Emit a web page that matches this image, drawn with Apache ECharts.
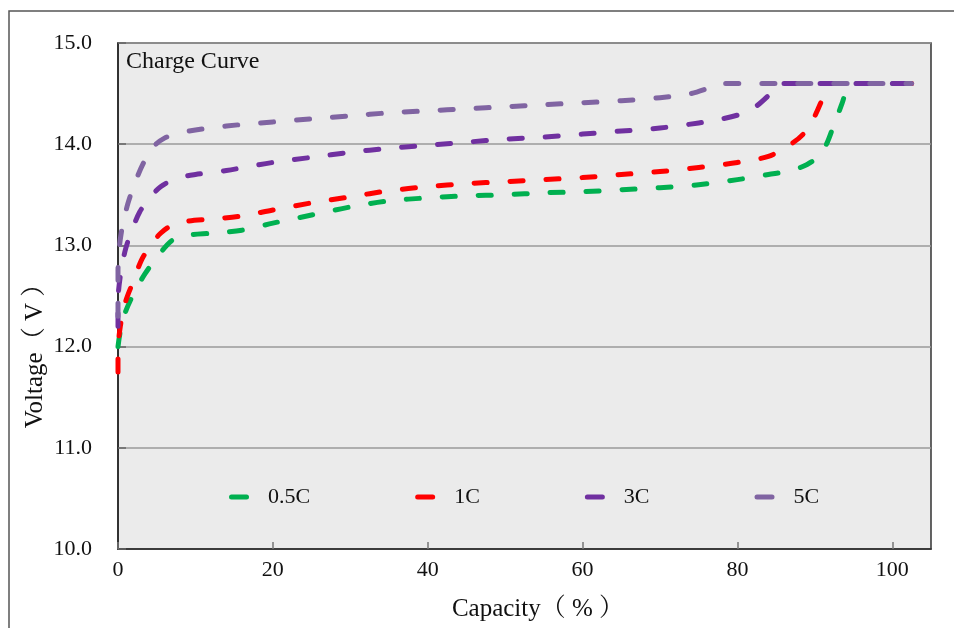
<!DOCTYPE html>
<html>
<head>
<meta charset="utf-8">
<script src="https://cdn.jsdelivr.net/npm/echarts@6/dist/echarts.min.js"></script>
<style>
  html, body { margin: 0; padding: 0; background: #fff; }
  #myChart { width: 954px; height: 628px; }
</style>
</head>
<body>
<div id="myChart"></div>
<script>
// series names (legend)
var seriesNames = ["0.5C", "1C", "3C", "5C"];
var seriesColors = ["#00b050", "#ff0000", "#7030a0", "#8064a2"];

// 0.5C
var cap05 = [0, 0.3, 1.0, 2.2, 3.5, 5, 7, 9, 12, 16, 20, 25, 30, 35, 40, 45, 50, 55, 60, 65, 70, 75, 80, 84, 87, 89, 90.5, 91.5, 92.5, 93.5, 94.3, 95, 98, 102.5];
var volt05 = [12.0, 12.15, 12.35, 12.55, 12.72, 12.88, 13.05, 13.1, 13.12, 13.15, 13.22, 13.3, 13.38, 13.44, 13.47, 13.49, 13.5, 13.52, 13.53, 13.55, 13.57, 13.6, 13.65, 13.7, 13.74, 13.8, 13.88, 14.0, 14.2, 14.4, 14.58, 14.6, 14.6, 14.6];

// 1C
var cap1 = [0, 0, 0.3, 1.0, 2.0, 3.0, 4.2, 5.5, 7, 9, 12, 16, 20, 25, 30, 35, 40, 45, 50, 55, 60, 65, 70, 75, 80, 84, 86.5, 88.5, 90, 91, 92, 93, 98, 102.5];
var volt1 = [11.75, 11.95, 12.2, 12.45, 12.65, 12.85, 13.0, 13.12, 13.2, 13.24, 13.26, 13.29, 13.35, 13.42, 13.48, 13.54, 13.58, 13.61, 13.63, 13.65, 13.67, 13.7, 13.73, 13.77, 13.82, 13.88, 13.98, 14.1, 14.28, 14.45, 14.6, 14.6, 14.6, 14.6];

// 3C
var cap3 = [0, 0, 0.4, 1.0, 1.8, 2.8, 4.0, 5.5, 7.5, 10, 14, 20, 25, 30, 35, 40, 45, 50, 55, 60, 65, 70, 75, 78, 80.5, 82.5, 84, 85.5, 90, 95, 102.5];
var volt3 = [12.2, 12.45, 12.75, 12.97, 13.15, 13.33, 13.46, 13.58, 13.66, 13.7, 13.74, 13.82, 13.87, 13.92, 13.96, 13.99, 14.02, 14.05, 14.07, 14.1, 14.13, 14.16, 14.21, 14.25, 14.3, 14.38, 14.48, 14.6, 14.6, 14.6, 14.6];

// 5C
var cap5 = [0, 0, 0.2, 0.6, 1.3, 2.2, 3.2, 4.5, 6, 8, 10, 14, 20, 25, 30, 35, 40, 45, 50, 55, 60, 65, 70, 74, 76.5, 78, 85, 95, 102.5];
var volt5 = [12.3, 12.75, 13.0, 13.2, 13.42, 13.62, 13.8, 13.97, 14.06, 14.11, 14.14, 14.18, 14.22, 14.25, 14.28, 14.31, 14.33, 14.35, 14.37, 14.39, 14.41, 14.43, 14.46, 14.5, 14.56, 14.6, 14.6, 14.6, 14.6];

var capList = [cap05, cap1, cap3, cap5];
var voltList = [volt05, volt1, volt3, volt5];

var serif = "'Liberation Serif', 'Noto Serif CJK SC', 'Noto Sans CJK SC', serif";

function pairs(xs, ys) {
  return xs.map(function (x, i) { return [x, ys[i]]; });
}

var mycharts = echarts.init(document.getElementById("myChart"));

var series = seriesNames.map(function (name, i) {
  return {
    name: name,
    type: "line",
    smooth: 0.3,
    showSymbol: false,
    symbol: "none",
    data: pairs(capList[i], voltList[i]),
    lineStyle: {
      color: seriesColors[i],
      width: 5,
      type: [13, 23],
      cap: "round",
      join: "round"
    },
    itemStyle: { color: seriesColors[i] }
  };
});

var option = {
  backgroundColor: "#fff",
  animation: false,
  title: {
    text: "Charge Curve",
    left: 126,
    top: 50,
    padding: 0,
    textStyle: { fontFamily: serif, fontSize: 24, fontWeight: "normal", color: "#111" }
  },
  legend: {
    data: seriesNames,
    left: 229,
    top: 486,
    padding: 0,
    itemGap: 105,
    itemWidth: 20,
    itemHeight: 5,
    icon: "path://M2.5,0 L17.5,0 A2.5,2.5 0 0 1 17.5,5 L2.5,5 A2.5,2.5 0 0 1 2.5,0 Z",
    textStyle: { fontFamily: serif, fontSize: 22, color: "#111", padding: [0, 0, 0, 14] }
  },
  grid: {
    left: 118,
    top: 43,
    right: 23,
    bottom: 79,
    show: true,
    backgroundColor: "#ebebeb",
    borderColor: "#333",
    borderWidth: 1.5
  },
  //x轴
  xAxis: {
    type: "value",
    min: 0,
    max: 105,
    interval: 20,
    axisLine: { show: true, onZero: false, lineStyle: { color: "#222", width: 1.5 } },
    axisTick: { show: true, inside: true, length: 7, lineStyle: { color: "#777", width: 1.5 } },
    axisLabel: { fontFamily: serif, fontSize: 22, color: "#111", margin: 10, showMaxLabel: false },
    splitLine: { show: false }
  },
  yAxis: {
    type: "value",
    min: 10,
    max: 15,
    interval: 1,
    axisLine: { show: true, lineStyle: { color: "#222", width: 1.5 } },
    axisTick: { show: true, inside: true, length: 8, lineStyle: { color: "#666", width: 1.5 } },
    axisLabel: {
      fontFamily: serif, fontSize: 22, color: "#111", margin: 26,
      formatter: function (v) { return v.toFixed(1); }
    },
    splitLine: { show: true, lineStyle: { color: "#9a9a9a", width: 1.5 } }
  },
  graphic: [
    {
      type: "rect",
      shape: { x: 9, y: 11, width: 1000, height: 700 },
      style: { fill: "none", stroke: "#555", lineWidth: 1.5 },
      silent: true,
      z: -1
    },
    {
      type: "text",
      x: 35,
      y: 350,
      rotation: Math.PI / 2,
      style: {
        text: "Voltage（ V ）",
        fontFamily: serif,
        fontSize: 25,
        fill: "#111",
        align: "center",
        verticalAlign: "middle"
      }
    },
    {
      type: "text",
      x: 538,
      y: 609,
      style: {
        text: "Capacity（ % ）",
        fontFamily: serif,
        fontSize: 25,
        fill: "#111",
        align: "center",
        verticalAlign: "middle"
      }
    }
  ],
  series: series
};

mycharts.setOption(option);
</script>
</body>
</html>
